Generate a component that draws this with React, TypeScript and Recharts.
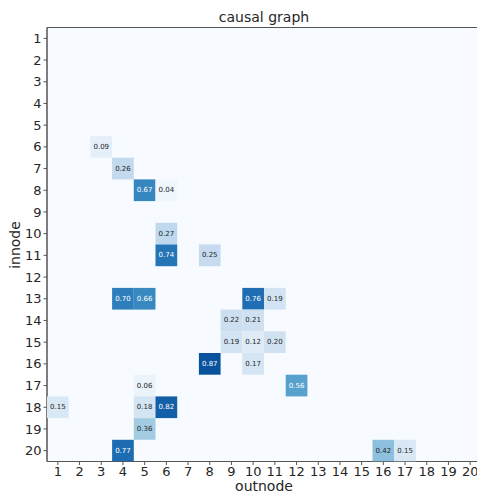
import React from 'react';
import { ScatterChart, Scatter, XAxis, YAxis, ReferenceArea } from 'recharts';

const nodes = Array.from({ length: 20 }, (_, i) => i + 1);

// non-zero edges: innode (row), outnode (column), weight
const innodes = [6, 7, 8, 8, 10, 11, 11, 13, 13, 13, 13, 14, 14, 15, 15, 15, 16, 16, 17, 17, 18, 18, 18, 19, 20, 20, 20];
const outnodes = [3, 4, 5, 6, 6, 6, 8, 4, 5, 10, 11, 9, 10, 9, 10, 11, 8, 10, 5, 12, 1, 5, 6, 5, 4, 16, 17];
const weights = [0.09, 0.26, 0.67, 0.04, 0.27, 0.74, 0.25, 0.70, 0.66, 0.76, 0.19, 0.22, 0.21, 0.19, 0.12, 0.20, 0.87, 0.17, 0.06, 0.56, 0.15, 0.18, 0.82, 0.36, 0.77, 0.42, 0.15];

const cells = weights.map((w, i) => ({ x: outnodes[i], y: innodes[i], w }));

const BLUES = ['#f7fbff', '#deebf7', '#c6dbef', '#9ecae1', '#6baed6', '#4292c6', '#2171b5', '#08519c', '#08306b'];

const hex = (h: string) => [1, 3, 5].map(i => parseInt(h.slice(i, i + 2), 16));

const blues = (v: number) => {
  const t = Math.max(0, Math.min(1, v)) * (BLUES.length - 1);
  const i = Math.min(Math.floor(t), BLUES.length - 2);
  const f = t - i;
  const a = hex(BLUES[i]);
  const b = hex(BLUES[i + 1]);
  const c = a.map((x, k) => Math.round(x + (b[k] - x) * f));
  return `rgb(${c[0]},${c[1]},${c[2]})`;
};

const PLOT = 434;
const CELL = PLOT / 20;
const tickStyle = { fill: '#262626', fontSize: 13, fontFamily: 'DejaVu Sans' };

const HeatCell = (props: any) => {
  const { cx, cy, payload } = props;
  const w = payload.w as number;
  return (
    <g>
      <rect x={cx - CELL / 2} y={cy - CELL / 2} width={CELL} height={CELL} fill={blues(w)} />
      <text
        x={cx}
        y={cy}
        textAnchor="middle"
        dominantBaseline="central"
        fontSize={7}
        fontFamily="DejaVu Sans"
        fill={w > 0.5 ? '#ffffff' : '#262626'}
      >
        {w.toFixed(2)}
      </text>
    </g>
  );
};

export default function App() {
  return (
    <div style={{ position: 'relative', width: 477, height: 493, overflow: 'hidden', background: '#fff' }}>
      <style>{'body{margin:0}'}</style>
      <div
        style={{
          position: 'absolute', left: 47, width: PLOT, top: 9, textAlign: 'center',
          fontFamily: 'DejaVu Sans', fontSize: 14, color: '#262626',
        }}
      >
        causal graph
      </div>
      <div
        style={{
          position: 'absolute', left: 15, top: 245, transform: 'translate(-50%, -50%) rotate(-90deg)',
          fontFamily: 'DejaVu Sans', fontSize: 14, color: '#262626', whiteSpace: 'nowrap',
        }}
      >
        innode
      </div>
      <div
        style={{
          position: 'absolute', left: 47, width: PLOT, top: 478, textAlign: 'center',
          fontFamily: 'DejaVu Sans', fontSize: 14, color: '#262626',
        }}
      >
        outnode
      </div>
      <div style={{ position: 'absolute', left: 0, top: 0 }}>
        <ScatterChart width={47 + PLOT} height={493} margin={{ top: 27.5, right: 0, bottom: 0, left: 0 }}>
          <XAxis
            type="number"
            dataKey="x"
            domain={[0.5, 20.5]}
            ticks={nodes}
            interval={0}
            height={31.5}
            tick={tickStyle}
            tickSize={3.5}
            stroke="#555"
            allowDataOverflow
          />
          <YAxis
            type="number"
            dataKey="y"
            domain={[0.5, 20.5]}
            ticks={nodes}
            interval={0}
            reversed
            width={47}
            tick={tickStyle}
            tickSize={3.5}
            stroke="#555"
            allowDataOverflow
          />
          <ReferenceArea x1={0.5} x2={20.5} y1={0.5} y2={20.5} fill="#f7fbff" fillOpacity={1} stroke="#555" strokeWidth={1} />
          <Scatter data={cells} shape={HeatCell} isAnimationActive={false} />
        </ScatterChart>
      </div>
    </div>
  );
}
